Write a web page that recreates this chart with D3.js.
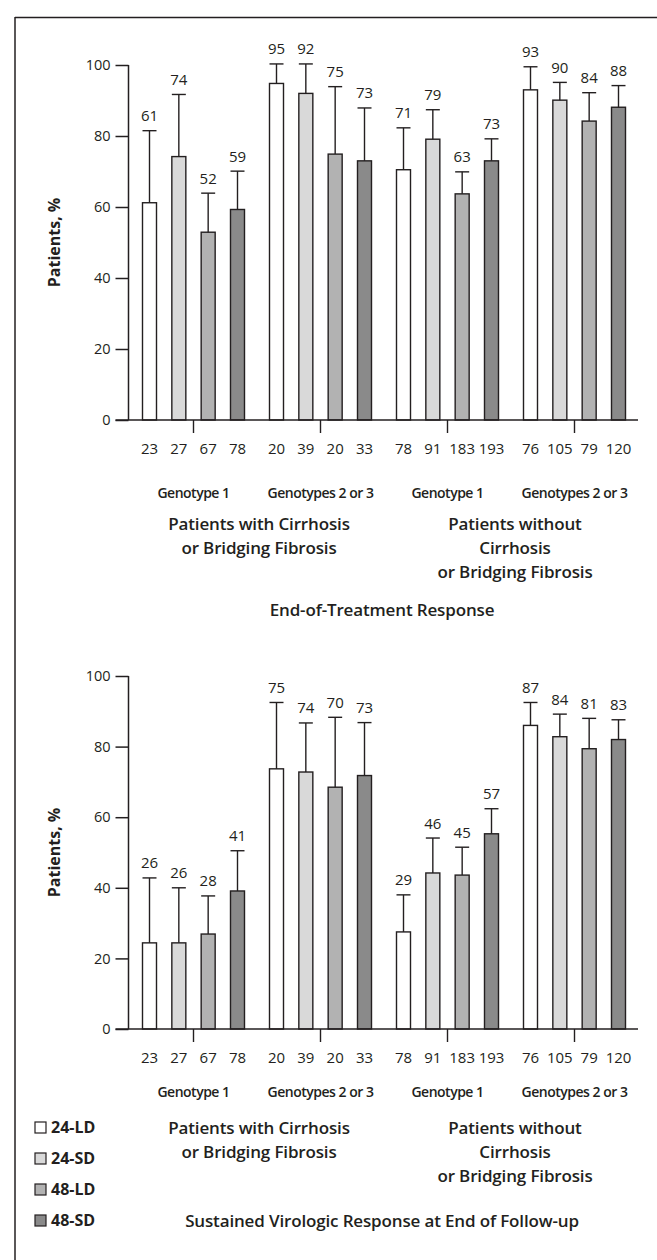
<!DOCTYPE html>
<html><head><meta charset="utf-8">
<script src="https://cdn.jsdelivr.net/npm/d3@7"></script>
<style>
html,body{margin:0;padding:0;background:#fff;}
svg{display:block;font-family:"Open Sans",sans-serif;}
</style></head><body>
<svg id="c" width="657" height="1260"></svg>
<script>
const groups = ["cirrG1","cirrG23","noCirrG1","noCirrG23"];
const groupLabels = ["Genotype 1","Genotypes 2 or 3","Genotype 1","Genotypes 2 or 3"];
const series = ["24-LD","24-SD","48-LD","48-SD"];
const seriesColors = ["#ffffff","#d9d9d9","#b2b2b2","#8a8a8a"];
const sampleSizes = [[23,27,67,78],[20,39,20,33],[78,91,183,193],[76,105,79,120]];
const eotValues = [[61.2,74.2,52.9,59.3],[94.8,92,74.9,73],[70.5,79.1,63.7,73],[93,90.1,84.2,88.1]];
const eotErrTop = [[81.5,91.7,63.9,70.1],[100.3,100.3,93.9,87.9],[82.3,87.4,69.9,79.2],[99.5,95.1,92.2,94.2]];
const eotLabels = [[61,74,52,59],[95,92,75,73],[71,79,63,73],[93,90,84,88]];
const svrValues = [[24.4,24.4,26.9,39.1],[73.7,72.8,68.5,71.8],[27.5,44.2,43.6,55.3],[86,82.8,79.4,82]];
const svrErrTop = [[42.8,40,37.7,50.5],[92.5,86.7,88.3,86.8],[38,54.1,51.5,62.4],[92.5,89.2,88,87.6]];
const svrLabels = [[26,26,28,41],[75,74,70,73],[29,46,45,57],[87,84,81,83]];
const yTicks = [0,20,40,60,80,100];
const populationLabels = [["Patients with Cirrhosis","or Bridging Fibrosis"],["Patients without","Cirrhosis","or Bridging Fibrosis"]];
const panelTitles = ["End-of-Treatment Response","Sustained Virologic Response at End of Follow-up"];

const svg = d3.select("#c");
const ink = "#231f20";
const axisX = 128.5;

svg.append("line").attr("x1",15).attr("x2",657).attr("y1",17.5).attr("y2",17.5).attr("stroke",ink).attr("stroke-width",1.5);
svg.append("line").attr("x1",15).attr("x2",15).attr("y1",17).attr("y2",1260).attr("stroke",ink).attr("stroke-width",1.5);

const x0 = d3.scaleBand().domain(groups).range([130,638]).paddingInner(0).paddingOuter(0);
const x1 = d3.scalePoint().domain(series).range([-44,44]);
const barW = 14;
const popCenters = [259, 515];

function panel(opts){
  const y = d3.scaleLinear().domain([0,100]).range([opts.y0, opts.y100]);
  const g = svg.append("g");
  const ax = g.append("g").attr("transform",`translate(${axisX},0)`)
    .call(d3.axisLeft(y).tickValues(yTicks).tickSize(13).tickPadding(5).tickFormat(d3.format("d")));
  ax.select(".domain").attr("stroke",ink).attr("stroke-width",1.5).attr("d",`M0,${y(0)}V${y(100)}`);
  ax.selectAll(".tick line").attr("stroke",ink).attr("stroke-width",1.5);
  ax.selectAll(".tick text").attr("fill",ink).style("font-size","14.5px").style("font-family","Open Sans");
  g.append("text").attr("transform",`translate(60,${(y(0)+y(100))/2}) rotate(-90)`)
    .attr("text-anchor","middle").attr("fill",ink).style("font-size","16px").style("font-weight","700").text("Patients, %");
  groups.forEach((gr,gi)=>{
    const cx = x0(gr)+x0.bandwidth()/2;
    series.forEach((s,si)=>{
      const bx = cx + x1(s);
      g.append("rect").attr("x",bx-barW/2).attr("width",barW)
        .attr("y",y(opts.values[gi][si])).attr("height",y(0)-y(opts.values[gi][si]))
        .attr("fill",seriesColors[si]).attr("stroke",ink).attr("stroke-width",1.4);
      const et = y(opts.err[gi][si]);
      g.append("line").attr("x1",bx).attr("x2",bx).attr("y1",y(opts.values[gi][si])).attr("y2",et).attr("stroke",ink).attr("stroke-width",1.4);
      g.append("line").attr("x1",bx-barW/2).attr("x2",bx+barW/2).attr("y1",et).attr("y2",et).attr("stroke",ink).attr("stroke-width",1.4);
      g.append("text").attr("x",bx).attr("y",et-9.5).attr("text-anchor","middle").attr("fill",ink)
        .style("font-size","15px").text(opts.labels[gi][si]);
      g.append("text").attr("x",bx).attr("y",y(0)+34).attr("text-anchor","middle").attr("fill",ink)
        .style("font-size","15px").text(sampleSizes[gi][si]);
    });
    g.append("line").attr("x1",cx).attr("x2",cx).attr("y1",y(0)).attr("y2",y(0)+13).attr("stroke",ink).attr("stroke-width",1.4);
    g.append("text").attr("x",cx).attr("y",y(0)+opts.genoDy).attr("text-anchor","middle").attr("fill",ink)
      .style("font-size","14px").style("font-weight","600").style("letter-spacing","-0.5px").text(groupLabels[gi]);
  });
  g.append("line").attr("x1",axisX-13).attr("x2",638).attr("y1",y(0)).attr("y2",y(0)).attr("stroke",ink).attr("stroke-width",1.5);
  [0,1].forEach(p=>{
    populationLabels[p].forEach((t,i)=>{
      g.append("text").attr("x",popCenters[p]).attr("y",y(0)+opts.popDy+i*24).attr("text-anchor","middle").attr("fill",ink)
        .style("font-size","17px").style("font-weight","600").style("letter-spacing","-0.15px").text(t);
    });
  });
  g.append("text").attr("x",382).attr("y",opts.titleY).attr("text-anchor","middle").attr("fill",ink)
    .style("font-size","17px").style("font-weight","600").style("letter-spacing","-0.15px").text(opts.title);
}

panel({y0:420, y100:65, values:eotValues, err:eotErrTop, labels:eotLabels, title:panelTitles[0], titleY:616, genoDy:78, popDy:110});
panel({y0:1029, y100:676, values:svrValues, err:svrErrTop, labels:svrLabels, title:panelTitles[1], titleY:1227, genoDy:68, popDy:105});

const leg = svg.append("g");
series.forEach((s,i)=>{
  const ly = 1133 + i*31;
  leg.append("rect").attr("x",35).attr("y",ly-11).attr("width",11).attr("height",11)
    .attr("fill",seriesColors[i]).attr("stroke",ink).attr("stroke-width",1.2);
  leg.append("text").attr("x",51).attr("y",ly).attr("fill",ink)
    .style("font-size","16px").style("font-weight","700").text(s);
});
</script>
</body></html>
